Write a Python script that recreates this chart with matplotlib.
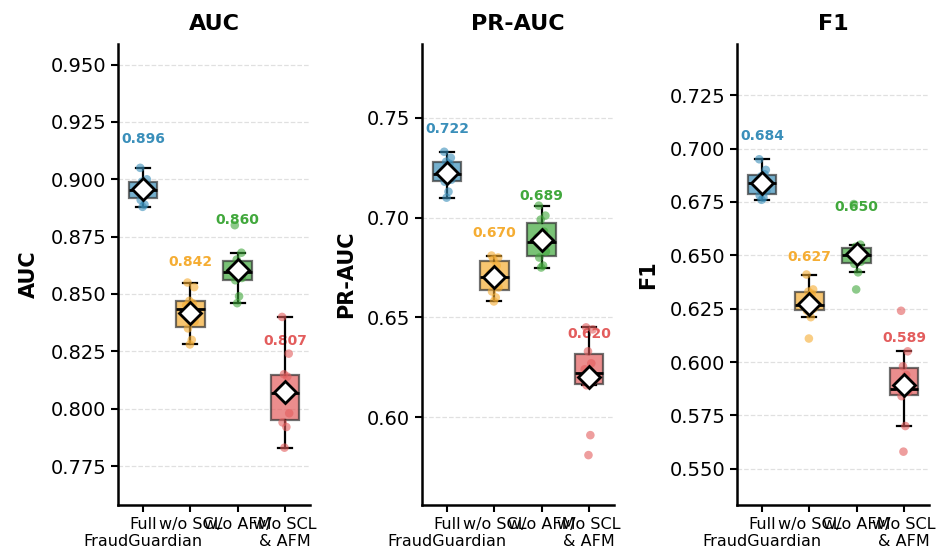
import numpy as np
import matplotlib.pyplot as plt

# =====================================
# DATA (10 runs per variant)
# =====================================

metrics = ["AUC", "PR-AUC", "F1"]
variants = ["Full\nFraudGuardian", "w/o SCL", "w/o AFM", "w/o SCL\n& AFM"]
colors = ["#3A8FBA", "#F5AD33", "#41A83C", "#E35D5D"]

auc_full = [0.905, 0.900, 0.899, 0.898, 0.896, 0.895, 0.895, 0.891, 0.889, 0.888]
auc_wo_scl = [0.855, 0.853, 0.847, 0.846, 0.845, 0.842, 0.838, 0.835, 0.830, 0.828]
auc_wo_afm = [0.880, 0.868, 0.865, 0.863, 0.861, 0.858, 0.857, 0.856, 0.849, 0.846]
auc_wo_both = [0.840, 0.824, 0.815, 0.814, 0.808, 0.806, 0.798, 0.794, 0.792, 0.783]

prauc_full = [0.733, 0.730, 0.728, 0.727, 0.723, 0.721, 0.719, 0.718, 0.713, 0.710]
prauc_wo_scl = [0.681, 0.680, 0.679, 0.676, 0.672, 0.668, 0.665, 0.663, 0.660, 0.658]
prauc_wo_afm = [0.706, 0.701, 0.699, 0.693, 0.690, 0.686, 0.683, 0.680, 0.676, 0.675]
prauc_wo_both = [0.645, 0.644, 0.633, 0.627, 0.624, 0.620, 0.618, 0.616, 0.591, 0.581]

f1_full = [0.695, 0.690, 0.687, 0.688, 0.685, 0.683, 0.680, 0.678, 0.677, 0.676]
f1_wo_scl = [0.641, 0.634, 0.633, 0.632, 0.627, 0.626, 0.625, 0.624, 0.621, 0.611]
f1_wo_afm = [0.674, 0.655, 0.654, 0.652, 0.650, 0.650, 0.647, 0.646, 0.642, 0.634]
f1_wo_both = [0.624, 0.605, 0.598, 0.594, 0.588, 0.587, 0.586, 0.584, 0.570, 0.558]

runs = {
    "AUC": [auc_full, auc_wo_scl, auc_wo_afm, auc_wo_both],
    "PR-AUC": [prauc_full, prauc_wo_scl, prauc_wo_afm, prauc_wo_both],
    "F1": [f1_full, f1_wo_scl, f1_wo_afm, f1_wo_both],
}

# fixed horizontal spread for the strip points
jitter = np.array([-0.06, 0.08, -0.02, 0.05, -0.09, 0.01, 0.09, -0.05, 0.03, -0.01])

# =====================================
# FIGURE
# =====================================

W, H = 939, 552
fig = plt.figure(figsize=(W / 100, H / 100), dpi=100)

panel_left = [118, 422, 737]
panel_w, top, bottom = 192, 44, 505

for k, metric in enumerate(metrics):
    ax = fig.add_axes([panel_left[k] / W, 1 - bottom / H,
                       panel_w / W, (bottom - top) / H])
    data = runs[metric]
    pos = np.arange(1, len(variants) + 1)

    bp = ax.boxplot(
        data,
        positions=pos,
        widths=0.6,
        patch_artist=True,
        showfliers=False,
        medianprops=dict(color="black", linewidth=2),
        whiskerprops=dict(color="black", linewidth=1.6),
        capprops=dict(color="black", linewidth=1.6),
        boxprops=dict(edgecolor="#333333", linewidth=1.6),
    )
    for patch, c in zip(bp["boxes"], colors):
        patch.set_facecolor(c)
        patch.set_alpha(0.7)
        patch.set_edgecolor("#333333")

    for i, (vals, c) in enumerate(zip(data, colors)):
        vals = np.array(vals)
        ax.scatter(pos[i] + jitter[:len(vals)], vals, s=38, color=c,
                   alpha=0.6, edgecolors="none", zorder=3)
        m = vals.mean()
        ax.plot(pos[i], m, marker="D", markersize=11, markerfacecolor="white",
                markeredgecolor="black", markeredgewidth=2, zorder=4)
        ax.text(pos[i], m + 0.022, f"{m:.3f}", ha="center", va="center",
                fontsize=10, fontweight="bold", color=c, zorder=1.5)

    lo = min(min(v) for v in data)
    hi = max(max(v) for v in data)
    ax.set_ylim(lo - 0.025, hi + 0.054)
    ax.set_xlim(0.47, 4.53)

    ax.set_xticks(pos)
    ax.set_xticklabels(variants)
    ax.set_title(metric, fontsize=16, fontweight="bold", pad=10)
    ax.set_ylabel(metric, fontsize=15, fontweight="bold", labelpad=8)

    ax.yaxis.grid(True, linestyle="--", color="#cccccc", alpha=0.6, linewidth=0.9)
    ax.set_axisbelow(True)
    for s in ["top", "right"]:
        ax.spines[s].set_visible(False)
    for s in ["left", "bottom"]:
        ax.spines[s].set_linewidth(1.8)
    ax.tick_params(axis="y", labelsize=14, width=1.5, length=5)
    ax.tick_params(axis="x", labelsize=11.5, width=1.5, length=5)

fig.savefig("out.png", dpi=100)
